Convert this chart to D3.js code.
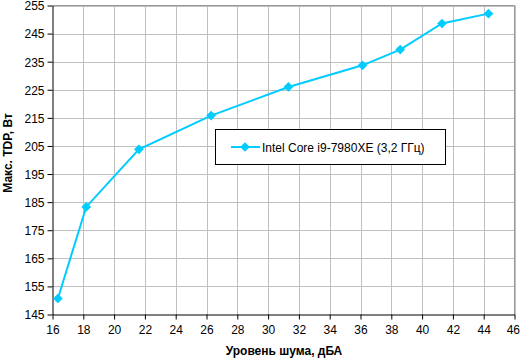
<!DOCTYPE html>
<html><head><meta charset="utf-8">
<script src="https://cdn.jsdelivr.net/npm/d3@7"></script>
<style>body{margin:0;background:#fff}svg{display:block}text{font-family:"Liberation Sans",Arial,sans-serif}</style>
</head><body><svg id="c" width="520" height="359"></svg>
<script>
const noise = [16.35, 18.19, 21.61, 26.3, 31.32, 36.13, 38.58, 41.29, 44.31];
const tdp = [150.7, 183.3, 203.8, 215.8, 226.0, 233.7, 239.3, 248.6, 252.1];
const seriesName = "Intel Core i9-7980XE (3,2 ГГц)";
const xTicks = d3.range(16, 47, 2);
const yTicks = d3.range(145, 256, 10);
const xTitle = "Уровень шума, дБА";
const yTitle = "Макс. TDP, Вт";

const svg = d3.select("#c");
const L = 52.5, R = 514.5, T = 5.5, B = 314.5;
const x = d3.scaleLinear().domain([16, 46]).range([L, R]);
const y = d3.scaleLinear().domain([145, 255]).range([B, T]);
const color = "#00ccff";

// grid
svg.append("g").selectAll("line").data(xTicks.slice(1)).join("line")
  .attr("x1", d => Math.round(x(d)) + 0.5).attr("x2", d => Math.round(x(d)) + 0.5)
  .attr("y1", T).attr("y2", B).attr("stroke", "#c0c0c0");
svg.append("g").selectAll("line").data(yTicks.slice(1)).join("line")
  .attr("y1", d => Math.round(y(d)) + 0.5).attr("y2", d => Math.round(y(d)) + 0.5)
  .attr("x1", L).attr("x2", R).attr("stroke", "#c0c0c0");
svg.append("line").attr("x1", R).attr("x2", R).attr("y1", T).attr("y2", B).attr("stroke", "#999");
svg.append("line").attr("x1", L).attr("x2", R).attr("y1", T).attr("y2", T).attr("stroke", "#999");

// axes
const xa = svg.append("g").attr("transform", `translate(0,${B})`)
  .call(d3.axisBottom(x).tickValues(xTicks).tickSize(5).tickSizeOuter(0).tickFormat(d3.format("d")));
const ya = svg.append("g").attr("transform", `translate(${L},0)`)
  .call(d3.axisLeft(y).tickValues(yTicks).tickSize(5).tickSizeOuter(0).tickFormat(d3.format("d")));
[xa, ya].forEach(g => {
  g.select(".domain").attr("stroke", "#000");
  g.selectAll(".tick line").attr("stroke", "#000");
  g.selectAll("text").attr("font-size", 12).attr("fill", "#000")
   .attr("font-family", '"Liberation Sans",Arial,sans-serif');
});
xa.selectAll("text").attr("dy", null).attr("y", 19);
xa.selectAll(".tick").filter(d => d === 46).select("text").attr("text-anchor", "end").attr("x", 5);
ya.selectAll("text").attr("x", -8).attr("dy", "0.36em");

// titles
svg.append("text").attr("x", 284).attr("y", 355).attr("text-anchor", "middle")
  .attr("font-size", 12).attr("font-weight", "bold").text(xTitle);
svg.append("text").attr("transform", "translate(12,153) rotate(-90)").attr("text-anchor", "middle")
  .attr("font-size", 12).attr("font-weight", "bold").text(yTitle);

// series
const pts = noise.map((v, i) => [v, tdp[i]]);
svg.append("path").datum(pts)
  .attr("d", d3.line().x(d => x(d[0])).y(d => y(d[1])))
  .attr("fill", "none").attr("stroke", color).attr("stroke-width", 2);
const diamond = d3.symbol().type(d3.symbolDiamond2).size(60);
svg.append("g").selectAll("path").data(pts).join("path")
  .attr("transform", d => `translate(${x(d[0])},${y(d[1])})`)
  .attr("d", diamond).attr("fill", color);

// legend
const lg = svg.append("g");
lg.append("rect").attr("x", 215.5).attr("y", 129.5).attr("width", 230).attr("height", 35)
  .attr("fill", "#fff").attr("stroke", "#000");
lg.append("line").attr("x1", 231).attr("x2", 260).attr("y1", 147).attr("y2", 147)
  .attr("stroke", color).attr("stroke-width", 2);
lg.append("path").attr("transform", "translate(245,147)").attr("d", diamond).attr("fill", color);
lg.append("text").attr("x", 262).attr("y", 151.5).attr("font-size", 12).text(seriesName);
</script></body></html>
